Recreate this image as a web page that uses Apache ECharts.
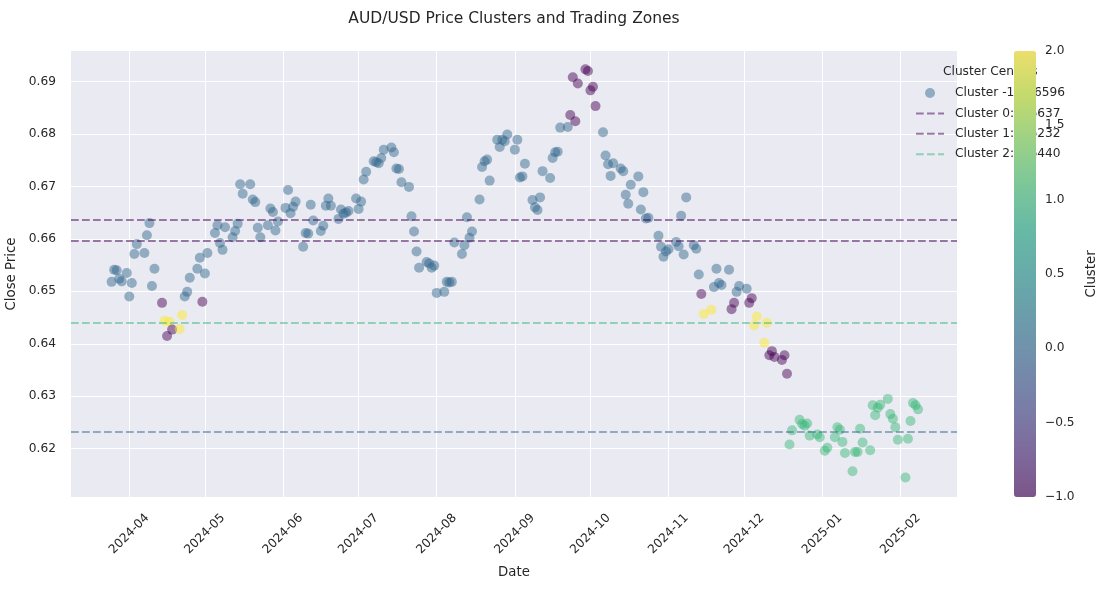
<!DOCTYPE html>
<html>
<head>
<meta charset="utf-8">
<title>AUD/USD Price Clusters and Trading Zones</title>
<script src="https://cdn.jsdelivr.net/npm/echarts@6/dist/echarts.min.js"></script>
<style>
html, body { margin: 0; padding: 0; background: #fff; }
#chart { width: 1109px; height: 589px; }
</style>
</head>
<body>
<div id="chart"></div>
<script>
// daily close
var dates = [
	'2024-03-25','2024-03-26','2024-03-27','2024-03-28','2024-03-29','2024-03-31',
	'2024-04-01','2024-04-02','2024-04-03','2024-04-04',
	'2024-04-07','2024-04-08','2024-04-09','2024-04-10','2024-04-11',
	'2024-04-14','2024-04-15','2024-04-16','2024-04-17','2024-04-18',
	'2024-04-21','2024-04-22','2024-04-23','2024-04-24','2024-04-25',
	'2024-04-28','2024-04-29','2024-04-30','2024-05-01','2024-05-02',
	'2024-05-05','2024-05-06','2024-05-07','2024-05-08','2024-05-09',
	'2024-05-12','2024-05-13','2024-05-14','2024-05-15','2024-05-16',
	'2024-05-19','2024-05-20','2024-05-21','2024-05-22','2024-05-23',
	'2024-05-26','2024-05-27','2024-05-28','2024-05-29','2024-05-30',
	'2024-06-02','2024-06-03','2024-06-04','2024-06-05','2024-06-06',
	'2024-06-09','2024-06-10','2024-06-11','2024-06-12','2024-06-13',
	'2024-06-16','2024-06-17','2024-06-18','2024-06-19','2024-06-20',
	'2024-06-23','2024-06-24','2024-06-25','2024-06-26','2024-06-27',
	'2024-06-30','2024-07-01','2024-07-02','2024-07-03','2024-07-04',
	'2024-07-07','2024-07-08','2024-07-09','2024-07-10','2024-07-11',
	'2024-07-14','2024-07-15','2024-07-16','2024-07-17','2024-07-18',
	'2024-07-21','2024-07-22','2024-07-23','2024-07-24','2024-07-25',
	'2024-07-28','2024-07-29','2024-07-30','2024-07-31','2024-08-01',
	'2024-08-04','2024-08-05','2024-08-06','2024-08-07','2024-08-08',
	'2024-08-11','2024-08-12','2024-08-13','2024-08-14','2024-08-15',
	'2024-08-18','2024-08-19','2024-08-20','2024-08-21','2024-08-22',
	'2024-08-25','2024-08-26','2024-08-27','2024-08-28','2024-08-29',
	'2024-09-01','2024-09-02','2024-09-03','2024-09-04','2024-09-05',
	'2024-09-08','2024-09-09','2024-09-10','2024-09-11','2024-09-12',
	'2024-09-15','2024-09-16','2024-09-17','2024-09-18','2024-09-19',
	'2024-09-22','2024-09-23','2024-09-24','2024-09-25','2024-09-26',
	'2024-09-29','2024-09-30','2024-10-01','2024-10-02','2024-10-03',
	'2024-10-06','2024-10-07','2024-10-08','2024-10-09','2024-10-10',
	'2024-10-13','2024-10-14','2024-10-15','2024-10-16','2024-10-17',
	'2024-10-20','2024-10-21','2024-10-22','2024-10-23','2024-10-24',
	'2024-10-28','2024-10-29','2024-10-30','2024-10-31','2024-11-01',
	'2024-11-04','2024-11-05','2024-11-06','2024-11-07','2024-11-08',
	'2024-11-11','2024-11-12','2024-11-13','2024-11-14','2024-11-15',
	'2024-11-18','2024-11-19','2024-11-20','2024-11-21','2024-11-22',
	'2024-11-25','2024-11-26','2024-11-27','2024-11-28','2024-11-29',
	'2024-12-02','2024-12-03','2024-12-04','2024-12-05','2024-12-06',
	'2024-12-09','2024-12-10','2024-12-11','2024-12-12','2024-12-13',
	'2024-12-16','2024-12-17','2024-12-18','2024-12-19','2024-12-20',
	'2024-12-23','2024-12-24','2024-12-25','2024-12-26','2024-12-27',
	'2024-12-30','2024-12-31','2025-01-02','2025-01-03',
	'2025-01-06','2025-01-07','2025-01-08','2025-01-09','2025-01-10',
	'2025-01-13','2025-01-14','2025-01-15','2025-01-16','2025-01-17',
	'2025-01-20','2025-01-21','2025-01-22','2025-01-23','2025-01-24',
	'2025-01-27','2025-01-28','2025-01-29','2025-01-30','2025-01-31',
	'2025-02-03','2025-02-04','2025-02-05','2025-02-06','2025-02-07','2025-02-08'
];

var closes = [
	0.6518,0.6541,0.6540,0.6524,0.6519,0.6535,
	0.6490,0.6516,0.6571,0.6590,
	0.6573,0.6607,0.6630,0.6510,0.6543,
	0.6478,0.6444,0.6415,0.6442,0.6427,
	0.6428,0.6455,0.6490,0.6499,0.6526,
	0.6543,0.6564,0.6480,0.6534,0.6573,
	0.6611,0.6626,0.6592,0.6579,0.6622,
	0.6603,0.6615,0.6629,0.6704,0.6686,
	0.6704,0.6675,0.6670,0.6621,0.6603,
	0.6626,0.6658,0.6651,0.6616,0.6633,
	0.6659,0.6693,0.6649,0.6661,0.6671,
	0.6585,0.6611,0.6610,0.6665,0.6635,
	0.6615,0.6625,0.6663,0.6677,0.6663,
	0.6638,0.6656,0.6648,0.6650,0.6653,
	0.6677,0.6657,0.6671,0.6713,0.6728,
	0.6748,0.6746,0.6744,0.6754,0.6770,
	0.6774,0.6765,0.6734,0.6733,0.6708,
	0.6699,0.6643,0.6614,0.6576,0.6545,
	0.6556,0.6553,0.6545,0.6549,0.6497,
	0.6499,0.6518,0.6517,0.6518,0.6593,
	0.6571,0.6588,0.6641,0.6602,0.6614,
	0.6675,0.6737,0.6748,0.6751,0.6711,
	0.6789,0.6775,0.6789,0.6786,0.6799,
	0.6770,0.6789,0.6717,0.6719,0.6743,
	0.6674,0.6660,0.6655,0.6679,0.6729,
	0.6716,0.6754,0.6765,0.6766,0.6812,
	0.6813,0.6836,0.6908,0.6824,0.6896,
	0.6923,0.6920,0.6883,0.6890,0.6853,
	0.6803,0.6759,0.6742,0.6720,0.6744,
	0.6734,0.6729,0.6684,0.6667,0.6703,
	0.6719,0.6656,0.6689,0.6639,0.6640,
	0.6606,0.6585,0.6566,0.6576,0.6580,
	0.6594,0.6586,0.6644,0.6570,0.6679,
	0.6588,0.6581,0.6532,0.6495,0.6457,
	0.6465,0.6508,0.6543,0.6516,0.6512,
	0.6541,0.6466,0.6478,0.6499,0.6510,
	0.6505,0.6478,0.6487,0.6435,0.6452,
	0.6402,0.6440,0.6378,0.6386,0.6375,
	0.6369,0.6378,0.6343,0.6208,0.6235,
	0.6255,0.6247,0.6244,0.6248,0.6225,
	0.6227,0.6222,0.6196,0.6202,
	0.6222,0.6241,0.6236,0.6213,0.6192,
	0.6157,0.6194,0.6194,0.6238,0.6212,
	0.6197,0.6283,0.6264,0.6278,0.6284,
	0.6295,0.6266,0.6257,0.6241,0.6217,
	0.6145,0.6219,0.6253,0.6287,0.6283,0.6275
];

var clusters = [
	0,0,0,0,0,0,
	0,0,0,0,
	0,0,0,0,0,
	-1,2,-1,2,-1,
	2,2,0,0,0,
	0,0,-1,0,0,
	0,0,0,0,0,
	0,0,0,0,0,
	0,0,0,0,0,
	0,0,0,0,0,
	0,0,0,0,0,
	0,0,0,0,0,
	0,0,0,0,0,
	0,0,0,0,0,
	0,0,0,0,0,
	0,0,0,0,0,
	0,0,0,0,0,
	0,0,0,0,0,
	0,0,0,0,0,
	0,0,0,0,0,
	0,0,0,0,0,
	0,0,0,0,0,
	0,0,0,0,0,
	0,0,0,0,0,
	0,0,0,0,0,
	0,0,0,0,0,
	0,-1,-1,-1,-1,
	-1,-1,-1,-1,-1,
	0,0,0,0,0,
	0,0,0,0,0,
	0,0,0,0,0,
	0,0,0,0,0,
	0,0,0,0,0,
	0,0,0,-1,2,
	2,0,0,0,0,
	0,-1,-1,0,0,
	0,-1,-1,2,2,
	2,2,-1,-1,-1,
	-1,-1,-1,1,1,
	1,1,1,1,1,
	1,1,1,1,
	1,1,1,1,1,
	1,1,1,1,1,
	1,1,1,1,1,
	1,1,1,1,1,
	1,1,1,1,1,1
];

// cluster centre lines and the legend entries
var centerLevels = [0.6596, 0.6637, 0.6232, 0.6440];
var centerLineColors = ['rgba(68,1,84,0.5)', 'rgba(68,1,84,0.5)', 'rgba(49,104,142,0.5)', 'rgba(53,183,121,0.5)'];
var legendNames = ['Cluster -1: 0.6596', 'Cluster 0: 0.6637', 'Cluster 1: 0.6232', 'Cluster 2: 0.6440'];
var legendLineColors = ['rgba(68,1,84,0.5)', 'rgba(68,1,84,0.5)', 'rgba(53,183,121,0.5)'];

var viridis = ['#440154','#482475','#414487','#355f8d','#2a788e','#21918c','#22a884','#44bf70','#7ad151','#bddf26','#fde725'];

var FONT = 'DejaVu Sans';
var TXT = '#262626';
var DASH = [7.7, 3.3];

function pad(n) { return n < 10 ? '0' + n : '' + n; }

function hexA(hex, a) {
	var r = parseInt(hex.substr(1, 2), 16), g = parseInt(hex.substr(3, 2), 16), b = parseInt(hex.substr(5, 2), 16);
	return 'rgba(' + r + ',' + g + ',' + b + ',' + a + ')';
}

var points = [];
for (var i = 0; i < dates.length; i++) {
	points.push([dates[i], closes[i], clusters[i]]);
}

var markData = [];
for (var k = 0; k < centerLevels.length; k++) {
	markData.push({ yAxis: centerLevels[k], lineStyle: { color: centerLineColors[k], type: DASH, width: 2 } });
}

var series = [{
	name: legendNames[0],
	type: 'scatter',
	xAxisIndex: 0,
	yAxisIndex: 0,
	symbolSize: 10,
	data: points,
	markLine: {
		silent: true,
		precision: 4,
		symbol: ['none', 'none'],
		label: { show: false },
		data: markData
	}
}];
var legendData = [{ name: legendNames[0], icon: 'circle', itemStyle: { color: 'rgba(49,104,142,0.6)' } }];
for (var j = 1; j < legendNames.length; j++) {
	series.push({
		name: legendNames[j],
		type: 'line',
		symbol: 'none',
		data: [],
		itemStyle: { color: legendLineColors[j - 1], opacity: 0 },
		lineStyle: { color: legendLineColors[j - 1], type: DASH, width: 2 }
	});
	legendData.push({ name: legendNames[j], itemStyle: { opacity: 0 } });
}

var myChart = echarts.init(document.getElementById('chart'));
myChart.setOption({
	backgroundColor: '#ffffff',
	animation: false,
	title: {
		text: 'AUD/USD Price Clusters and Trading Zones',
		left: 514,
		textAlign: 'center',
		top: 11,
		padding: 0,
		textStyle: { fontFamily: FONT, fontSize: 15.5, fontWeight: 'normal', color: TXT }
	},
	legend: {
		orient: 'vertical',
		left: 915,
		top: 87,
		padding: 0,
		itemWidth: 28,
		itemHeight: 10,
		itemGap: 8.4,
		z: 3,
		selectedMode: false,
		textStyle: { fontFamily: FONT, fontSize: 12.2, color: TXT, padding: [0, 0, 0, 6] },
		data: legendData
	},
	graphic: [{
		type: 'text',
		z: 1,
		left: 943,
		top: 66,
		style: { text: 'Cluster Centers', font: '12.2px "DejaVu Sans"', fill: TXT }
	}],
	visualMap: {
		type: 'continuous',
		seriesIndex: 0,
		dimension: 2,
		min: -1,
		max: 2,
		calculable: false,
		hoverLink: false,
		orient: 'vertical',
		left: 1014,
		top: 51,
		itemWidth: 22,
		itemHeight: 446,
		padding: 0,
		z: 6,
		text: null,
		inRange: { color: viridis.map(function(c) { return hexA(c, 0.6); }) }
	},
	grid: [
		{ left: 71, right: 152, top: 51, bottom: 92, outerBoundsMode: 'none', containLabel: false, show: true, backgroundColor: '#eaeaf2', borderWidth: 0 },
		{ left: 1014, width: 22, top: 51, height: 446, outerBoundsMode: 'none', containLabel: false, show: false }
	],
	xAxis: [{
		type: 'time',
		gridIndex: 0,
		min: '2024-03-08 21:00',
		max: '2025-02-23 11:00',
		splitNumber: 12,
		minInterval: 29 * 86400000,
		maxInterval: 31 * 86400000,
		axisLine: { show: false },
		axisTick: { show: false },
		splitLine: { show: true, showMinLine: false, showMaxLine: false, lineStyle: { color: '#ffffff', width: 1 } },
		axisLabel: {
			rotate: 45,
			align: 'center',
			verticalAlign: 'middle',
			margin: 37,
			fontFamily: FONT,
			fontSize: 12.2,
			color: TXT,
			formatter: function(val) {
				var d = new Date(val);
				if (d.getDate() !== 1 || d.getHours() !== 0) return '';
				return d.getFullYear() + '-' + pad(d.getMonth() + 1);
			}
		},
		name: 'Date',
		nameLocation: 'middle',
		nameGap: 69,
		nameTextStyle: { fontFamily: FONT, fontSize: 13.3, color: TXT }
	}, {
		type: 'value',
		gridIndex: 1,
		show: false,
		min: 0,
		max: 1
	}],
	yAxis: [{
		type: 'value',
		gridIndex: 0,
		min: 0.6108,
		max: 0.6958,
		splitNumber: 8,
		axisLine: { show: false },
		axisTick: { show: false },
		splitLine: { show: true, showMinLine: false, showMaxLine: false, lineStyle: { color: '#ffffff', width: 1 } },
		axisLabel: {
			margin: 15,
			fontFamily: FONT,
			fontSize: 12.2,
			color: TXT,
			showMinLabel: false,
			showMaxLabel: false,
			formatter: function(v) {
				if (Math.abs(v * 100 - Math.round(v * 100)) > 1e-6) return '';
				return v.toFixed(2);
			}
		},
		name: 'Close Price',
		nameLocation: 'middle',
		nameRotate: 90,
		nameGap: 44,
		nameTextStyle: { fontFamily: FONT, fontSize: 13.3, color: TXT }
	}, {
		type: 'value',
		gridIndex: 1,
		position: 'right',
		min: -1,
		max: 2,
		interval: 0.5,
		z: 7,
		axisLine: { show: false },
		axisTick: { show: false },
		splitLine: { show: false },
		axisLabel: {
			margin: 9,
			fontFamily: FONT,
			fontSize: 12.2,
			color: TXT,
			formatter: function(v) { return v.toFixed(1).replace('-', '\u2212'); }
		},
		name: 'Cluster',
		nameLocation: 'middle',
		nameRotate: 90,
		nameGap: 49,
		nameTextStyle: { fontFamily: FONT, fontSize: 13.3, color: TXT }
	}],
	series: series
});
</script>
</body>
</html>
